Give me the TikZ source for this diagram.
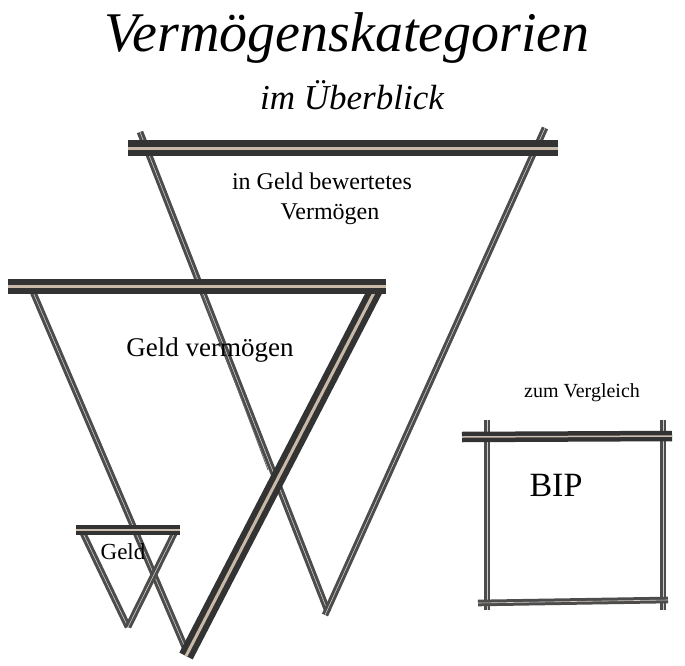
\documentclass[tikz,border=0pt]{standalone}
\usepackage{fontspec}
\setmainfont{Liberation Serif}
\begin{document}
\begin{tikzpicture}[x=1pt,y=-1pt,
  thin line/.style={draw=black!70,line width=3pt,double=brown!30!gray!40,double distance=0.6pt},
  thick line/.style={draw=black!80,line width=6pt,double=brown!45!gray!55,double distance=3pt},
  lbl/.style={inner sep=0pt}]
\useasboundingbox (0,0) rectangle (685,666);
\fill[white] (0,0) rectangle (685,666);
% title
\node[lbl] (t1) at (347,38) {\fontsize{56}{60}\selectfont\itshape Vermögenskategorien};
\node[lbl] (t2) at (352,95) {\fontsize{35}{39}\selectfont\itshape im Überblick};
% big triangle
\draw[thin line] (140,132) -- (328,612);
\draw[thin line] (545,128) -- (325,615);
\draw[black!60,line width=0.8pt] (195,275) -- (268,470);
\draw[thick line] (128,148) -- (558,148);
\node[lbl] (b1) at (322,181) {\fontsize{24}{28}\selectfont in Geld bewertetes};
\node[lbl] (b2) at (330,214) {\fontsize{24}{28}\selectfont Vermögen};
% middle triangle
\draw[thin line] (30,285) -- (187,652);
\draw[thick line] (378,285) -- (186,656);
\draw[thick line] (8,286) -- (386,286);
\node[lbl] (g1) at (210,350) {\fontsize{27}{31}\selectfont Geld vermögen};
% small triangle
\draw[thin line] (80,527) -- (128,627);
\draw[thin line] (177,528) -- (128,627);
\draw[draw=black!80,line width=4pt,double=brown!40!gray!50,double distance=1.5pt] (76,530) -- (180,530);
\node[lbl] (g2) at (123,552) {\fontsize{23}{27}\selectfont Geld};
% box
\draw[thin line] (487,420) -- (487,610);
\draw[thin line] (663,420) -- (663,610);
\draw[thin line] (478,603) -- (668,600);
\draw[draw=black!80,line width=4.5pt,double=brown!40!gray!50,double distance=1.5pt] (462,437) -- (672,436);
\node[lbl] (v) at (582,393) {\fontsize{20}{24}\selectfont zum Vergleich};
\node[lbl] (bip) at (556,485) {\fontsize{34}{38}\selectfont BIP};
\end{tikzpicture}
\end{document}
